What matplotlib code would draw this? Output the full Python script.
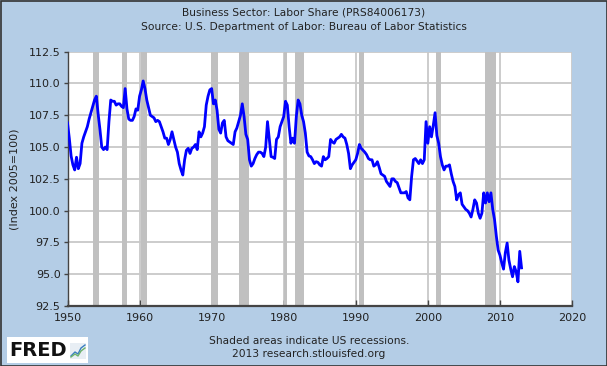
import numpy as np
import matplotlib
matplotlib.use("Agg")
import matplotlib.pyplot as plt
from matplotlib.patches import Rectangle
from matplotlib.lines import Line2D

# ---------------- data ----------------
start_year = 1950  # quarterly series starting 1950Q1
labor_share = [
    106.9, 105.7, 104.3, 103.6,   # 1950
    103.2, 104.2, 103.3, 103.7,   # 1951
    105.3, 105.8, 106.2, 106.6,   # 1952
    107.2, 107.7, 108.2, 108.7,   # 1953
    109.0, 107.6, 106.4, 105.0,   # 1954
    104.8, 105.0, 104.8, 107.0,   # 1955
    108.7, 108.6, 108.6, 108.3,   # 1956
    108.4, 108.4, 108.2, 108.1,   # 1957
    109.6, 108.0, 107.2, 107.1,   # 1958
    107.1, 107.4, 108.0, 107.9,   # 1959
    109.0, 109.5, 110.2, 109.6,   # 1960
    108.7, 108.1, 107.5, 107.4,   # 1961
    107.3, 107.0, 107.1, 107.0,   # 1962
    106.6, 106.2, 105.7, 105.7,   # 1963
    105.2, 105.6, 106.2, 105.6,   # 1964
    105.0, 104.6, 103.7, 103.2,   # 1965
    102.8, 104.0, 104.75, 104.9,  # 1966
    104.5, 104.9, 105.0, 105.2,   # 1967
    104.8, 106.2, 105.8, 106.1,   # 1968
    106.6, 108.3, 109.0, 109.5,   # 1969
    109.6, 108.4, 108.7, 107.9,   # 1970
    106.4, 106.1, 106.9, 107.1,   # 1971
    105.8, 105.5, 105.4, 105.3,   # 1972
    105.2, 106.2, 106.5, 107.0,   # 1973
    107.5, 108.4, 107.4, 106.0,   # 1974
    105.6, 104.0, 103.5, 103.7,   # 1975
    104.1, 104.4, 104.6, 104.6,   # 1976
    104.5, 104.25, 105.0, 107.0,  # 1977
    105.6, 104.25, 104.2, 104.1,  # 1978
    105.6, 105.8, 106.6, 107.0,   # 1979
    107.4, 108.6, 108.3, 106.6,   # 1980
    105.3, 105.7, 105.3, 107.4,   # 1981
    108.7, 108.4, 107.5, 107.0,   # 1982
    106.1, 104.6, 104.3, 104.25,  # 1983
    104.0, 103.7, 103.85, 103.8,  # 1984
    103.6, 103.5, 104.25, 104.0,  # 1985
    104.1, 104.25, 105.6, 105.4,  # 1986
    105.3, 105.6, 105.7, 105.8,   # 1987
    106.0, 105.8, 105.7, 105.2,   # 1988
    104.5, 103.3, 103.6, 103.8,   # 1989
    104.0, 104.5, 105.2, 104.9,   # 1990
    104.75, 104.6, 104.4, 104.1,  # 1991
    104.0, 104.0, 103.5, 103.6,   # 1992
    103.85, 103.4, 102.9, 102.8,  # 1993
    102.7, 102.3, 102.1, 101.9,   # 1994
    102.5, 102.5, 102.3, 102.2,   # 1995
    101.8, 101.4, 101.4, 101.4,   # 1996
    101.5, 101.0, 100.85, 102.7,  # 1997
    104.0, 104.1, 103.9, 103.7,   # 1998
    104.0, 103.7, 104.0, 107.0,   # 1999
    105.3, 106.6, 105.8, 106.7,   # 2000
    107.7, 105.9, 105.3, 104.25,  # 2001
    103.6, 103.2, 103.5, 103.5,   # 2002
    103.6, 102.9, 102.3, 101.9,   # 2003
    100.85, 101.25, 101.4, 100.5, # 2004
    100.3, 100.1, 100.0, 99.8,    # 2005
    99.5, 100.1, 100.85, 100.6,   # 2006
    99.8, 99.4, 99.8, 101.4,      # 2007
    100.6, 101.4, 100.7, 101.4,   # 2008
    100.1, 99.3, 98.0, 96.9,      # 2009
    96.5, 95.9, 95.4, 96.7,       # 2010
    97.45, 96.1, 95.4, 94.8,      # 2011
    95.6, 95.2, 94.4, 96.8,       # 2012
    95.5,                         # 2013
]

# NBER recessions (peak month, trough month)
recessions = [
    ("1953-07", "1954-05"), ("1957-08", "1958-04"), ("1960-04", "1961-02"),
    ("1969-12", "1970-11"), ("1973-11", "1975-03"), ("1980-01", "1980-07"),
    ("1981-07", "1982-11"), ("1990-07", "1991-03"), ("2001-03", "2001-11"),
    ("2007-12", "2009-06"),
]

x_ticks = [1950, 1960, 1970, 1980, 1990, 2000, 2010, 2020]
y_ticks = [92.5, 95.0, 97.5, 100.0, 102.5, 105.0, 107.5, 110.0, 112.5]

title_lines = ["Business Sector: Labor Share (PRS84006173)",
               "Source: U.S. Department of Labor: Bureau of Labor Statistics"]
y_label = "(Index 2005=100)"
footer_lines = ["Shaded areas indicate US recessions.",
                "2013 research.stlouisfed.org"]


def ym(s):
    y, m = s.split("-")
    return int(y) + (int(m) - 1) / 12.0


# ---------------- figure ----------------
W, H = 607, 366
bg = "#B4CDE6"
fig = plt.figure(figsize=(W / 100, H / 100), dpi=100, facecolor=bg)

L, R, T, B = 67.5, 572, 51.7, 306
ax = fig.add_axes([L / W, 1 - B / H, (R - L) / W, (B - T) / H])
ax.set_facecolor("white")

xq = start_year + np.arange(len(labor_share)) / 4.0

for a, b in recessions:
    ax.axvspan(ym(a), ym(b), color="#C0C0C0", lw=0, zorder=1)

ax.plot(xq, labor_share, color="#0000FF", lw=2.0, zorder=3,
        solid_joinstyle="round")

ax.set_xlim(1950, 2020)
ax.set_ylim(92.5, 112.5)
ax.set_xticks(x_ticks)
ax.set_yticks(y_ticks)
ax.set_xticklabels([str(v) for v in x_ticks], fontsize=8, color="#222222")
ax.set_yticklabels(["%.1f" % v for v in y_ticks], fontsize=8, color="#222222")
ax.grid(True, color="#C8C8C8", lw=1.3, zorder=0)
ax.set_axisbelow(True)

for s in ("top", "right"):
    ax.spines[s].set_visible(False)
ax.spines["bottom"].set_color("#444444")
ax.spines["bottom"].set_linewidth(1.6)
ax.spines["left"].set_color("#444444")
ax.spines["left"].set_linewidth(1.0)
ax.tick_params(axis="x", direction="in", length=4, width=1, color="#444444", pad=5)
ax.tick_params(axis="y", direction="out", length=3, width=1, color="#444444", pad=2)

ax.set_ylabel(y_label, fontsize=8, color="#222222")
ax.yaxis.set_label_coords(-0.095, 0.5)

# titles
fig.text(0.5, 1 - 12.5 / H, title_lines[0], ha="center", va="center",
         fontsize=7.7, color="#222222")
fig.text(0.5, 1 - 26.5 / H, title_lines[1], ha="center", va="center",
         fontsize=7.7, color="#222222")

# footer
fig.text(309 / W, 1 - 341 / H, footer_lines[0], ha="center", va="center",
         fontsize=7.7, color="#222222")
fig.text(309 / W, 1 - 354 / H, footer_lines[1], ha="center", va="center",
         fontsize=7.7, color="#222222")

# FRED logo
fig.patches.append(Rectangle((7 / W, 1 - 363 / H), 81 / W, 26 / H,
                             transform=fig.transFigure, facecolor="white",
                             edgecolor="none", zorder=2))
fig.text(9 / W, 1 - 351 / H, "FRED", ha="left", va="center", fontsize=14,
         fontweight="bold", color="#111111", zorder=3,
         family="DejaVu Sans")
fig.patches.append(Rectangle((70 / W, 1 - 359 / H), 16 / W, 16 / H,
                             transform=fig.transFigure, facecolor="#E8EEF4",
                             edgecolor="none", zorder=3))
fig.lines.append(Line2D([71 / W, 75 / W, 78 / W, 81 / W, 85 / W],
                        [1 - 356 / H, 1 - 352 / H, 1 - 354 / H, 1 - 348 / H, 1 - 345 / H],
                        transform=fig.transFigure, color="#3A7FC0", lw=1, zorder=4))
fig.lines.append(Line2D([71 / W, 75 / W, 78 / W, 81 / W, 85 / W],
                        [1 - 357 / H, 1 - 354 / H, 1 - 356 / H, 1 - 351 / H, 1 - 348 / H],
                        transform=fig.transFigure, color="#6DB36D", lw=1, zorder=4))

# outer border
fig.patches.append(Rectangle((0.5 / W, 0.5 / H), (W - 1) / W, (H - 1) / H,
                             transform=fig.transFigure, facecolor="none",
                             edgecolor="#333333", lw=1.2, zorder=10))

fig.savefig("out.png", dpi=100, facecolor=bg)
